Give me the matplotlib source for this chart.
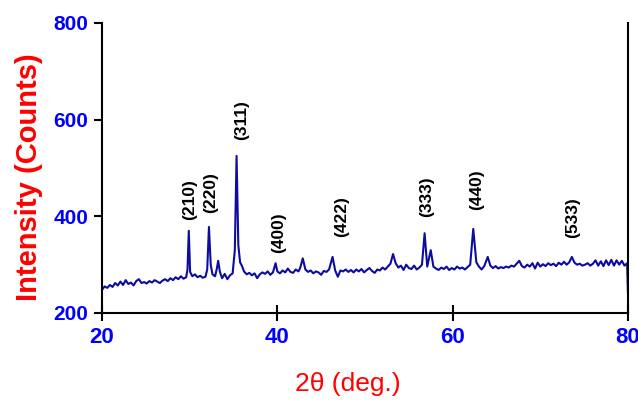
import numpy as np
import matplotlib.pyplot as plt

plt.rcParams['font.family'] = ['Liberation Sans', 'DejaVu Sans']

two_theta = [20.0, 20.3, 20.6, 20.9, 21.2, 21.5, 21.8, 22.1, 22.4, 22.7,
             23.0, 23.3, 23.6, 23.9, 24.2, 24.5, 24.8, 25.1, 25.4, 25.7,
             26.0, 26.3, 26.6, 26.9, 27.2, 27.5, 27.8, 28.1, 28.4, 28.7,
             29.0, 29.3, 29.6, 29.75, 29.9, 30.05, 30.3, 30.6, 30.9, 31.2,
             31.5, 31.8, 32.0, 32.2, 32.4, 32.6, 32.9, 33.1, 33.25, 33.45,
             33.7, 34.0, 34.3, 34.6, 34.9, 35.15, 35.35, 35.55, 35.75, 35.95,
             36.2, 36.5, 36.8, 37.1, 37.4, 37.7, 38.0, 38.3, 38.6, 38.9,
             39.2, 39.5, 39.8, 40.0, 40.3, 40.6, 40.9, 41.2, 41.5, 41.8,
             42.1, 42.4, 42.6, 42.9, 43.2, 43.5, 43.8, 44.1, 44.4, 44.7,
             45.0, 45.3, 45.6, 45.9, 46.3, 46.6, 46.9, 47.2, 47.5, 47.8,
             48.1, 48.4, 48.7, 49.0, 49.3, 49.6, 49.9, 50.2, 50.5, 50.8,
             51.1, 51.4, 51.7, 52.0, 52.3, 52.6, 52.9, 53.2, 53.5, 53.8,
             54.1, 54.4, 54.7, 55.0, 55.3, 55.6, 55.9, 56.2, 56.5, 56.8,
             57.1, 57.5, 57.8, 58.1, 58.4, 58.7, 59.0, 59.3, 59.6, 59.9,
             60.2, 60.5, 60.8, 61.1, 61.4, 61.7, 62.0, 62.35, 62.7, 63.0,
             63.3, 63.6, 64.0, 64.3, 64.6, 64.9, 65.2, 65.5, 65.8, 66.1,
             66.4, 66.7, 67.0, 67.3, 67.6, 67.9, 68.2, 68.5, 68.8, 69.1,
             69.4, 69.7, 70.0, 70.3, 70.6, 70.9, 71.2, 71.5, 71.8, 72.1,
             72.4, 72.7, 73.0, 73.3, 73.6, 73.9, 74.2, 74.5, 74.8, 75.1,
             75.4, 75.7, 76.0, 76.3, 76.6, 76.9, 77.2, 77.5, 77.8, 78.1,
             78.4, 78.7, 79.0, 79.3, 79.6, 79.9, 80.0]
counts = [248, 255, 252, 258, 254, 262, 257, 265, 258, 268,
          260, 263, 257, 266, 270, 262, 264, 261, 266, 263,
          268, 265, 262, 267, 270, 266, 272, 268, 274, 270,
          276, 271, 274, 290, 370, 285, 276, 280, 274, 277,
          273, 275, 290, 378, 300, 280, 276, 292, 308, 285,
          272, 281, 270, 278, 282, 330, 525, 340, 305, 298,
          286, 280, 283, 278, 282, 272, 280, 284, 281, 286,
          279, 284, 303, 286, 282, 288, 284, 292, 285, 283,
          290, 286, 293, 313, 290, 285, 288, 282, 286, 284,
          279, 287, 285, 290, 316, 288, 275, 288, 286, 290,
          285, 289, 284, 290, 286, 291, 284, 289, 293, 287,
          283, 290, 288, 294, 290, 296, 302, 322, 303, 294,
          298, 289, 300, 293, 291, 298, 290, 294, 300, 365,
          296, 330, 296, 292, 289, 294, 291, 296, 289, 293,
          290, 296, 292, 294, 290, 295, 300, 374, 305, 296,
          290, 297, 316, 298, 293, 297, 292, 295, 293, 296,
          294, 298, 296, 302, 308, 297, 294, 300, 296, 303,
          292, 304, 296, 301, 297, 303, 299, 302, 297, 304,
          300, 306, 300, 305, 316, 304, 300, 302, 298, 300,
          303, 298, 302, 309, 298, 307, 297, 309, 299, 310,
          298, 309, 300, 308, 298, 303, 240]

hkl = ['(210)', '(220)', '(311)', '(400)', '(422)', '(333)', '(440)', '(533)']
hkl_x = [30.0, 32.4, 35.9, 40.1, 47.3, 57.0, 62.7, 73.7]
hkl_y = [392, 407, 558, 324, 357, 399, 413, 355]

fig = plt.figure(figsize=(6.38, 4.0), dpi=100)
ax = fig.add_axes([0.1599, 0.2175, 0.8244, 0.725])

ax.plot(two_theta, counts, color='#0c0ca0', lw=1.5)

for lab, x, y in zip(hkl, hkl_x, hkl_y):
    ax.text(x, y, lab, rotation=90, ha='center', va='bottom',
            fontsize=12.5, fontweight='bold', color='black')

ax.set_xlim(20, 80)
ax.set_ylim(200, 800)
ax.set_xticks([20, 40, 60, 80])
ax.set_yticks([200, 400, 600, 800])

ax.spines['top'].set_visible(False)
for s in ['left', 'bottom', 'right']:
    ax.spines[s].set_linewidth(1.5)

ax.tick_params(axis='y', direction='out', length=6, width=1.5, pad=4,
               labelsize=15, labelcolor='blue')
ax.tick_params(axis='x', direction='inout', length=12, width=1.5, pad=4,
               labelsize=16, labelcolor='blue')
for lab in ax.get_xticklabels() + ax.get_yticklabels():
    lab.set_fontweight('bold')

ax.set_xlabel('2θ (deg.)', fontsize=19, color='red')
ax.set_ylabel('Intensity (Counts)', fontsize=21, color='red', fontweight='bold')
ax.xaxis.set_label_coords(0.468, -0.205)
ax.yaxis.set_label_coords(-0.112, 0.469)

fig.savefig('out.png', dpi=100)
